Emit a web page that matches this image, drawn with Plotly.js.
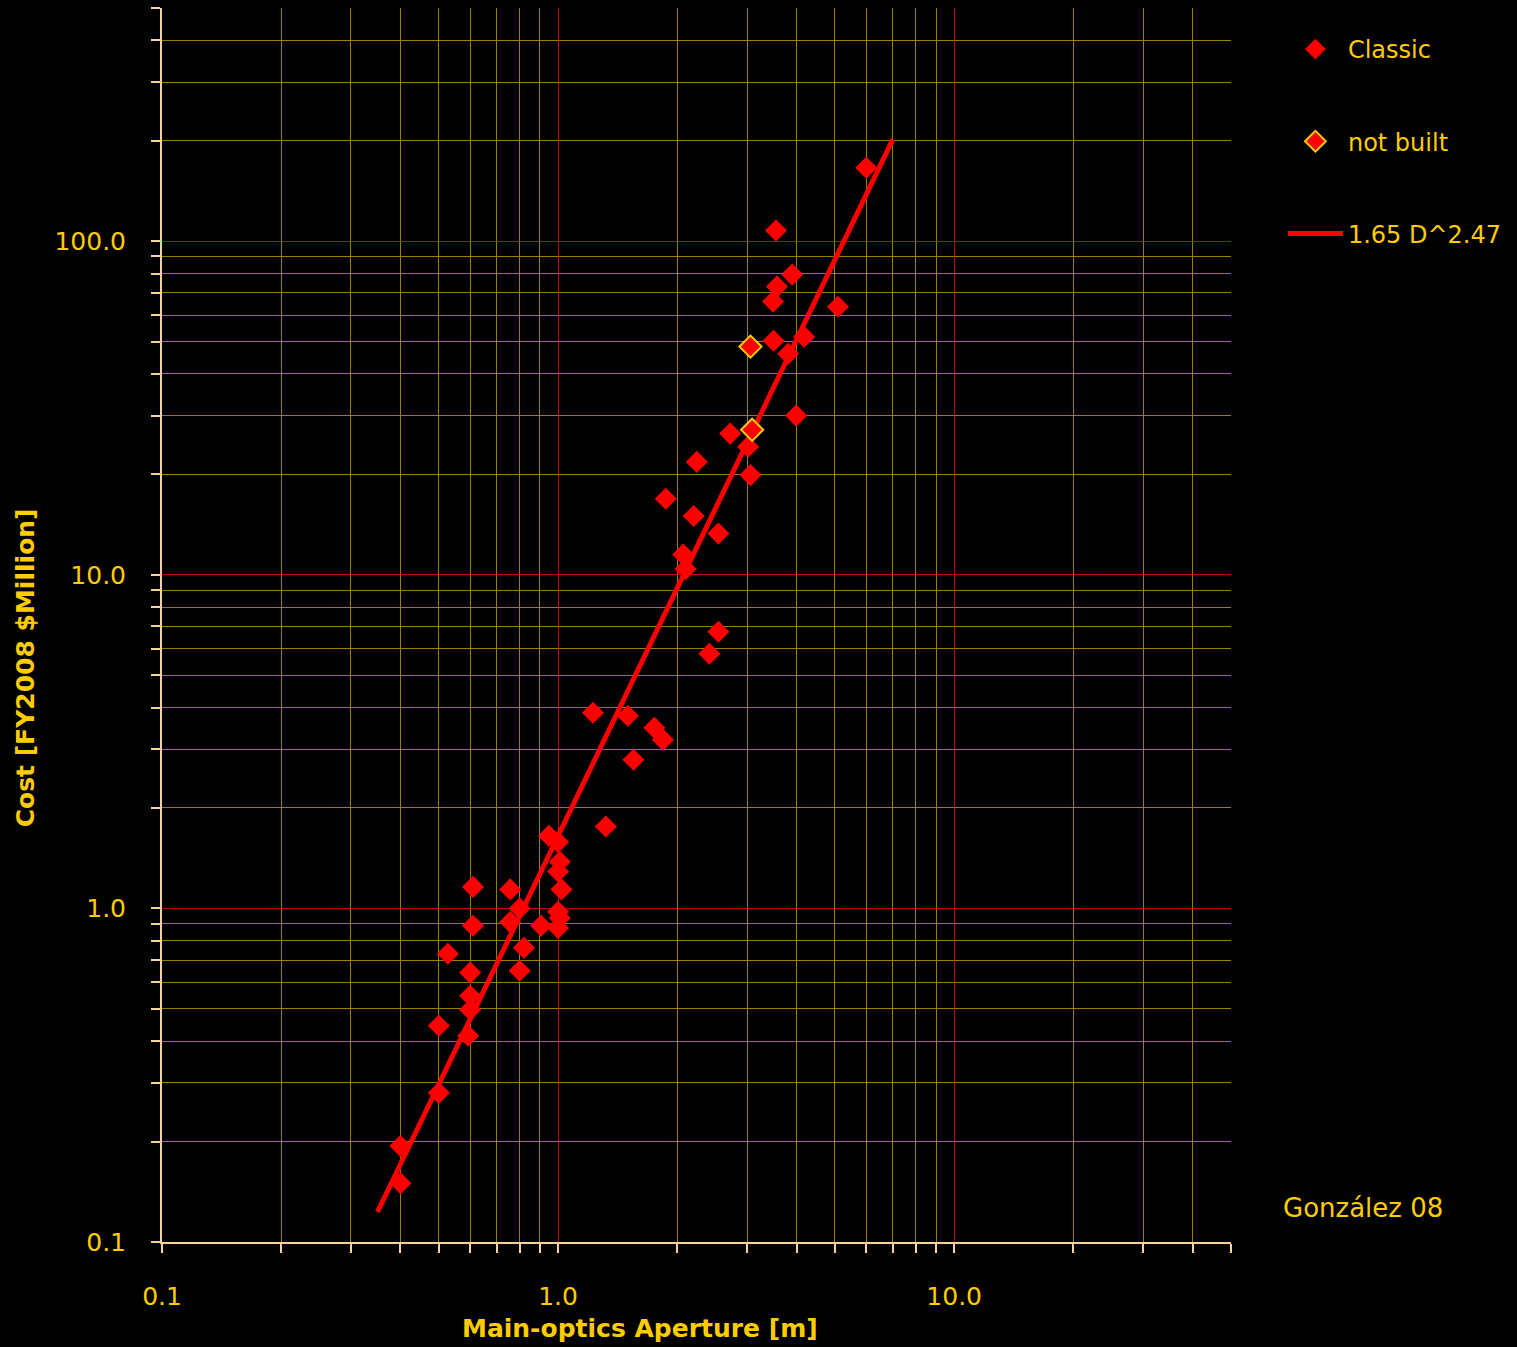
<!DOCTYPE html>
<html>
<head>
<meta charset="utf-8">
<script src="https://cdn.plot.ly/plotly-3.0.1.min.js"></script>
<style>html,body{margin:0;padding:0;background:#000;}</style>
</head>
<body>
<div id="chart" style="width:1517px;height:1347px;"></div>
<script>
// Classic telescopes: main-optics aperture [m] and cost [FY2008 $Million]
const classicAperture = [0.40, 0.40, 0.50, 0.50, 0.527, 0.593, 0.60, 0.60, 0.60, 0.61, 0.61,
  0.757, 0.757, 0.80, 0.80, 0.82, 0.906, 0.948, 1.00, 1.01, 1.00, 1.02, 1.00, 1.01, 1.00,
  1.225, 1.32, 1.50, 1.55, 1.75, 1.84, 1.87, 2.07, 2.10, 2.20, 2.24, 2.41, 2.54, 2.54,
  2.72, 3.02, 3.06, 3.49, 3.57, 3.55, 3.50, 3.90, 3.81, 4.18, 3.99, 5.09, 6.00];
const classicCost = [0.194, 0.150, 0.280, 0.445, 0.731, 0.415, 0.497, 0.547, 0.642, 0.887, 1.16,
  1.14, 0.91, 1.00, 0.65, 0.762, 0.887, 1.65, 1.58, 1.38, 1.29, 1.14, 0.977, 0.936, 0.874,
  3.86, 1.76, 3.78, 2.79, 3.48, 3.20, 16.9, 11.5, 10.4, 15.0, 21.8, 5.8, 6.75, 13.3,
  26.5, 24.2, 19.9, 65.9, 73.1, 107.6, 50.3, 79.4, 46.0, 51.7, 30.0, 63.6, 166];
// Not built
const notBuiltAperture = [3.06, 3.09];
const notBuiltCost = [48.3, 27.2];
// Fit line 1.65 D^2.47, end points
const fitAperture = [0.35, 7.0];
const fitCost = [0.123, 202];

const xTickVals = [0.1, 1, 10];
const xTickText = ["0.1", "1.0", "10.0"];
const yTickVals = [0.1, 1, 10, 100];
const yTickText = ["0.1", "1.0", "10.0", "100.0"];
const xMinorVals = [0.2, 0.3, 0.4, 0.5, 0.6, 0.7, 0.8, 0.9, 2, 3, 4, 5, 6, 7, 8, 9, 20, 30, 40, 50];
const yMinorVals = [0.2, 0.3, 0.4, 0.5, 0.6, 0.7, 0.8, 0.9, 2, 3, 4, 5, 6, 7, 8, 9,
  20, 30, 40, 50, 60, 70, 80, 90, 200, 300, 400, 500];

const FONT = "DejaVu Sans";
const YEL = "#ffcc00";
const AXC = "#f5d39b";
const MINORC = "#9a7e00";
const MAJORC = "#c80000";

const traces = [
  {
    x: classicAperture, y: classicCost, type: "scatter", mode: "markers", name: "Classic",
    legendgroup: "a", legendrank: 1,
    marker: {symbol: "diamond", size: 17, color: "#ff0000", line: {width: 0}}
  },
  {
    x: fitAperture, y: fitCost, type: "scatter", mode: "lines", name: "1.65 D^2.47",
    legendgroup: "c", legendrank: 3,
    line: {color: "#ff0000", width: 5}
  },
  {
    x: notBuiltAperture, y: notBuiltCost, type: "scatter", mode: "markers", name: "not built",
    legendgroup: "b", legendrank: 2,
    marker: {symbol: "diamond", size: 17, color: "#ff0000", line: {width: 2, color: YEL}}
  }
];

const layout = {
  width: 1517, height: 1347,
  paper_bgcolor: "#000", plot_bgcolor: "#000",
  margin: {l: 162, r: 286, t: 8, b: 105, autoexpand: false},
  font: {family: FONT, color: YEL, size: 24},
  showlegend: true,
  legend: {
    xref: "container", yref: "container",
    x: 0.8457, y: 0.980, xanchor: "left", yanchor: "top",
    bgcolor: "rgba(0,0,0,0)", font: {family: FONT, color: YEL, size: 24},
    traceorder: "grouped", tracegroupgap: 58, itemwidth: 55
  },
  xaxis: {
    type: "log", range: [-1, Math.log10(50)],
    tickmode: "array", tickvals: xTickVals, ticktext: xTickText,
    showgrid: true, gridcolor: MAJORC, gridwidth: 1,
    showline: true, linecolor: AXC, linewidth: 2,
    ticks: "outside", ticklen: 9, tickcolor: AXC, tickwidth: 2,
    ticklabelstandoff: 22,
    tickfont: {family: FONT, color: YEL, size: 25},
    zeroline: false,
    minor: {tickmode: "array", tickvals: xMinorVals, showgrid: true, gridcolor: MINORC, gridwidth: 1,
      ticks: "outside", ticklen: 9, tickcolor: AXC, tickwidth: 2}
  },
  yaxis: {
    type: "log", range: [-1, Math.log10(500)],
    tickmode: "array", tickvals: yTickVals, ticktext: yTickText,
    showgrid: true, gridcolor: MAJORC, gridwidth: 1,
    showline: true, linecolor: AXC, linewidth: 2,
    ticks: "outside", ticklen: 9, tickcolor: AXC, tickwidth: 2,
    ticklabelstandoff: 20,
    tickfont: {family: FONT, color: YEL, size: 25},
    zeroline: false,
    minor: {tickmode: "array", tickvals: yMinorVals, showgrid: true, gridcolor: MINORC, gridwidth: 1,
      ticks: "outside", ticklen: 9, tickcolor: AXC, tickwidth: 2}
  },
  annotations: [
    {text: "<b>Main-optics Aperture [m]</b>", xref: "paper", yref: "paper", x: 0.447, y: -0.0697,
     xanchor: "center", yanchor: "middle", showarrow: false, font: {family: FONT, color: YEL, size: 25}},
    {text: "<b>Cost [FY2008 $Million]</b>", xref: "paper", yref: "paper", x: -0.128, y: 0.465,
     xanchor: "center", yanchor: "middle", textangle: -90, showarrow: false, font: {family: FONT, color: YEL, size: 25}},
    {text: "González 08", xref: "paper", yref: "paper", x: 1.047, y: 0.0276,
     xanchor: "left", yanchor: "middle", showarrow: false, font: {family: FONT, color: YEL, size: 26}}
  ]
};

Plotly.newPlot("chart", traces, layout, {displayModeBar: false, staticPlot: true});
</script>
</body>
</html>
